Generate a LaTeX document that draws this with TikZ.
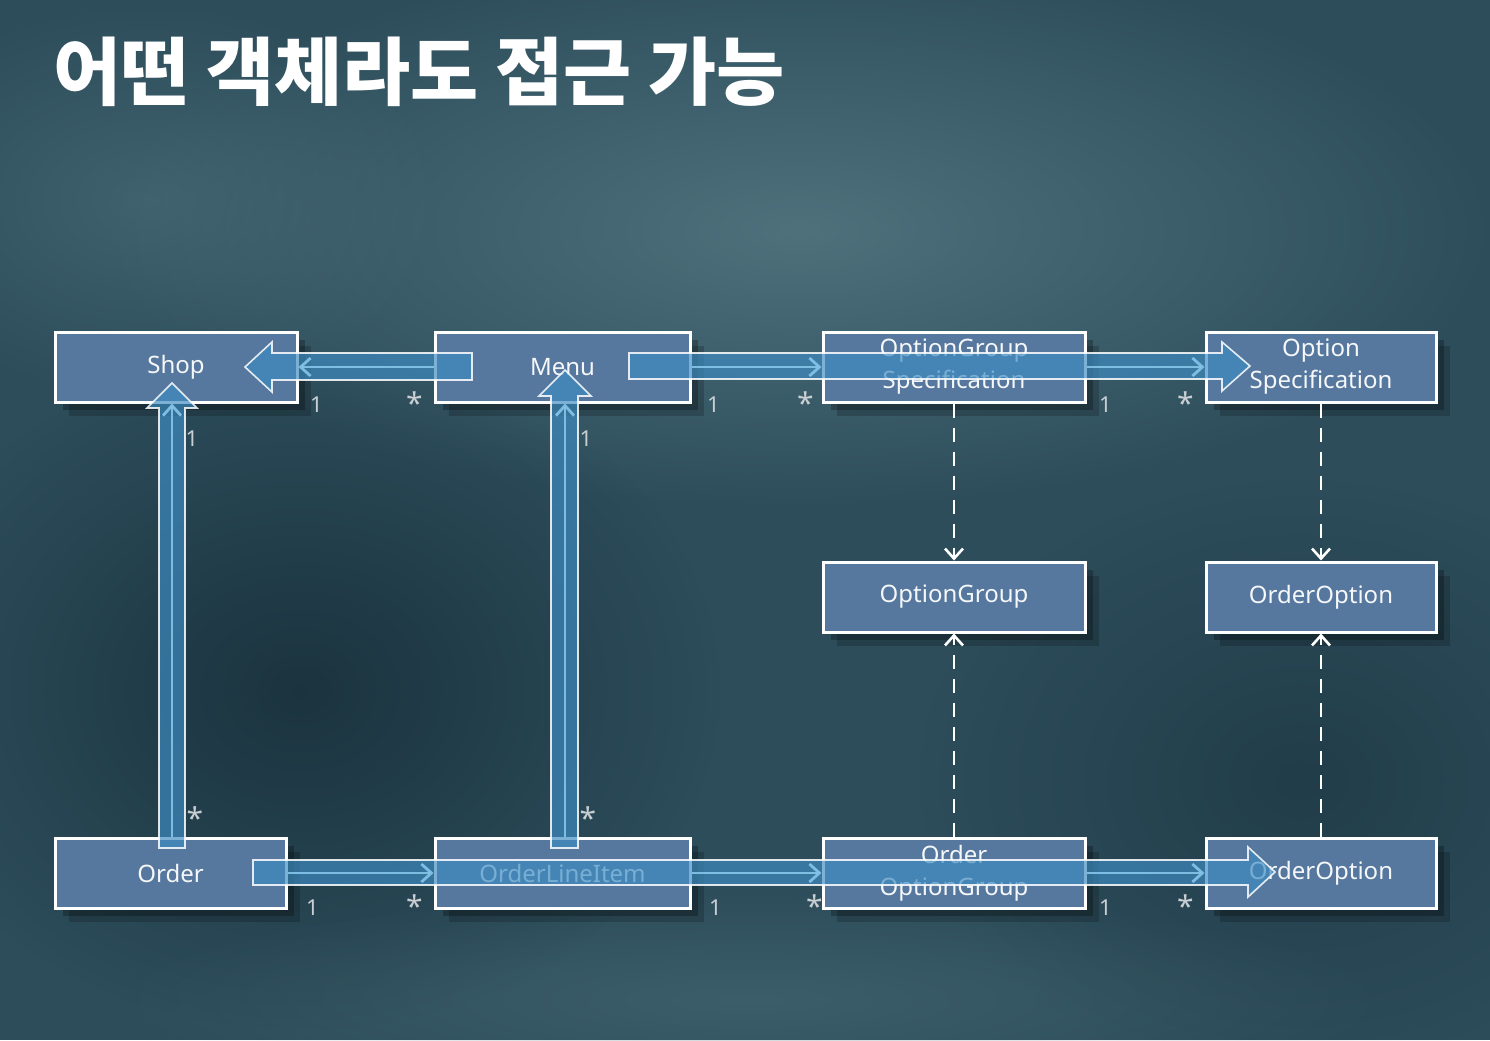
\documentclass[tikz,border=0pt]{standalone}
\usepackage{fontspec}
\setmainfont{Noto Sans}
\newfontfamily\krfont{Noto Sans CJK KR}
\usetikzlibrary{calc,arrows.meta,shadows,fadings}
\tikzfading[name=softblob, inner color=transparent!0, outer color=transparent!100]
\definecolor{bgbase}{HTML}{2D4D5B}
\definecolor{bglight}{HTML}{527580}
\definecolor{bgdark}{HTML}{162D38}
\definecolor{boxfill}{HTML}{56789F}
\definecolor{arrowfill}{HTML}{3E8CC2}
\definecolor{assoccol}{HTML}{86C6EA}
\definecolor{lblcol}{HTML}{C9CED3}
\tikzset{
  cls/.style={draw=white, line width=1.5pt, fill=boxfill, text=white!94!boxfill,
    inner sep=0pt, minimum height=35pt, font=\fontsize{12}{16}\selectfont, align=center,
    drop shadow={shadow xshift=7pt, shadow yshift=-7pt, opacity=0.18, fill=black},
    drop shadow={shadow xshift=4pt, shadow yshift=-4pt, opacity=0.25, fill=black}},
  bigarrow/.style={fill=arrowfill, fill opacity=0.68, draw=white, draw opacity=0.85,
    line width=0.8pt, line join=miter},
  assoc/.style={draw=assoccol, line width=1.4pt, draw opacity=0.9,
    -{Straight Barb[length=5pt,width=9pt]}},
  dep/.style={draw=white, line width=1.3pt, dash pattern=on 7pt off 5pt,
    -{Straight Barb[length=5pt,width=9pt]}},
  lbl/.style={text=lblcol, font=\fontsize{11}{12}\selectfont, inner sep=0pt},
  star/.style={text=lblcol, font=\bfseries\fontsize{15}{15}\selectfont, inner sep=0pt, yshift=-1pt},
}
\begin{document}
\begin{tikzpicture}[x=0.5pt,y=-0.5pt]
\useasboundingbox (0,0) rectangle (1490,1040);
% background
\fill[bgbase] (0,0) rectangle (1490,1040);
\fill[bglight, path fading=softblob, opacity=0.9] (800,230) ellipse (700 and 280);
\fill[bglight, path fading=softblob, opacity=0.5] (150,200) ellipse (300 and 200);
\fill[bgdark, path fading=softblob, opacity=0.8] (300,690) ellipse (420 and 340);
\fill[bgdark, path fading=softblob, opacity=0.5] (1300,780) ellipse (380 and 300);
\fill[bglight, path fading=softblob, opacity=0.4] (750,1000) ellipse (650 and 110);

% title
\node[anchor=west, inner sep=0pt, text=white, font=\krfont\bfseries\fontsize{37}{40}\selectfont] (title) at (53,72) {어떤 객체라도 접근 가능};

% classes
\node[cls, minimum width=121pt]   (shop) at (176,367) {Shop};
\node[cls, minimum width=127.5pt] (menu) at (562.5,367) {Menu};
\node[cls, minimum width=131pt]   (ogs)  at (954,367) {OptionGroup\\Specification};
\node[cls, minimum width=115pt]   (os)   at (1321,367) {Option\\Specification};
\node[cls, minimum width=131pt]   (og)   at (954,597) {OptionGroup};
\node[cls, minimum width=115pt]   (oo)   at (1321,597) {OrderOption};
\node[cls, minimum width=115.5pt] (order) at (170.5,873) {Order};
\node[cls, minimum width=127.5pt] (oli)  at (562.5,873) {OrderLineItem};
\node[cls, minimum width=131pt]   (oog)  at (954,873) {Order\\OptionGroup};
\node[cls, minimum width=115pt]   (oo2)  at (1321,873) {OrderOption};

% dependencies
\draw[dep] (ogs.south) -- (og.north);
\draw[dep] (os.south) -- (oo.north);
\draw[dep] (oog.north) -- (og.south);
\draw[dep] (oo2.north) -- (oo.south);

% big translucent arrows
\draw[bigarrow] (472,353) -- (272,353) -- (272,342) -- (245,367) -- (272,392) -- (272,380) -- (472,380) -- cycle;
\draw[bigarrow] (629,353) -- (1222,353) -- (1222,342) -- (1250,366) -- (1222,391) -- (1222,379) -- (629,379) -- cycle;
\draw[bigarrow] (253,860) -- (1248,860) -- (1248,847) -- (1275,872) -- (1248,897) -- (1248,885) -- (253,885) -- cycle;
\draw[bigarrow] (159,848) -- (159,408) -- (147,408) -- (172,383) -- (197,408) -- (185,408) -- (185,848) -- cycle;
\draw[bigarrow] (551,848) -- (551,396) -- (539,396) -- (565,370) -- (591,396) -- (578,396) -- (578,848) -- cycle;

% associations
\draw[assoc] (menu.west) -- (shop.east);
\draw[assoc] (menu.east) -- (ogs.west);
\draw[assoc] (ogs.east) -- (os.west);
\draw[assoc] ($(order.north)+(1.5,0)$) -- ($(order.north |- shop.south)+(1.5,0)$);
\draw[assoc] ($(oli.north)+(2.5,0)$) -- ($(oli.north |- menu.south)+(2.5,0)$);
\draw[assoc] (order.east) -- (oli.west);
\draw[assoc] (oli.east) -- (oog.west);
\draw[assoc] (oog.east) -- (oo2.west);

% multiplicities
\node[lbl]  (m1)  at ($(shop.south east)+(18,1)$) {1};
\node[star] (m2)  at ($(menu.south west)+(-19,-2)$) {*};
\node[lbl]  (m3)  at ($(menu.south east)+(22,1)$) {1};
\node[star] (m4)  at ($(ogs.south west)+(-16,-2)$) {*};
\node[lbl]  (m5)  at ($(ogs.south east)+(19,1)$) {1};
\node[star] (m6)  at ($(os.south west)+(-19,-2)$) {*};
\node[lbl]  (m7)  at ($(shop.south)+(16,35)$) {1};
\node[star] (m8)  at ($(order.north)+(24.5,-20)$) {*};
\node[lbl]  (m9)  at ($(menu.south)+(23.5,35)$) {1};
\node[star] (m10) at ($(oli.north)+(25.5,-20)$) {*};
\node[lbl]  (m11) at ($(order.south east)+(25,-2)$) {1};
\node[star] (m12) at ($(oli.south west)+(-19,-5)$) {*};
\node[lbl]  (m13) at ($(oli.south east)+(24,-2)$) {1};
\node[star] (m14) at ($(oog.south west)+(-7,-5)$) {*};
\node[lbl]  (m15) at ($(oog.south east)+(19,-2)$) {1};
\node[star] (m16) at ($(oo2.south west)+(-19,-5)$) {*};
\end{tikzpicture}
\end{document}
